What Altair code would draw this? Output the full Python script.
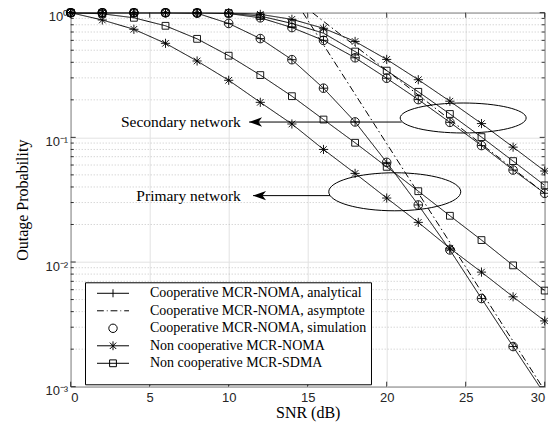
import altair as alt
import pandas as pd

# ---------------- data ----------------
snr = [0, 2, 4, 6, 8, 10, 12, 14, 16, 18, 20, 22, 24, 26, 28, 30]

coop_primary = [1.0, 1.0, 1.0, 1.0, 0.99, 0.82, 0.62, 0.42, 0.248, 0.133, 0.063,
                0.0287, 0.0125, 0.0051, 0.0021, 0.00087]
coop_secondary = [1.0, 1.0, 1.0, 1.0, 1.0, 0.985, 0.91, 0.76, 0.60, 0.435, 0.298,
                  0.201, 0.132, 0.086, 0.0547, 0.0356]
sim_primary = [1.0, 1.0, 1.0, 1.0, 0.99, 0.82, 0.62, 0.42, 0.248, 0.133, 0.063,
               0.0287, 0.0125, 0.0051, 0.0021, 0.00087]
sim_secondary = [1.0, 1.0, 1.0, 1.0, 1.0, 0.985, 0.91, 0.76, 0.60, 0.435, 0.298,
                 0.201, 0.132, 0.086, 0.0547, 0.0356]
noma_primary = [1.0, 0.874, 0.736, 0.568, 0.41, 0.287, 0.191, 0.128, 0.080, 0.0514,
                0.0326, 0.0208, 0.0129, 0.0083, 0.00526, 0.00337]
noma_secondary = [1.0, 1.0, 1.0, 1.0, 1.0, 1.0, 0.97, 0.885, 0.75, 0.588, 0.422,
                  0.29, 0.195, 0.129, 0.0835, 0.0537]
sdma_primary = [1.0, 0.98, 0.91, 0.785, 0.617, 0.452, 0.316, 0.214, 0.139, 0.0905,
                0.058, 0.037, 0.0235, 0.015, 0.0094, 0.0059]
sdma_secondary = [1.0, 1.0, 1.0, 1.0, 1.0, 0.99, 0.94, 0.82, 0.685, 0.488, 0.343,
                  0.232, 0.154, 0.1005, 0.0645, 0.0412]

asym_primary_snr = [14.7, 30.0]
asym_primary = [1.0, 0.00093]
asym_secondary_snr = [15.3, 30.0]
asym_secondary = [1.0, 0.0356]

legend_labels = [
    "Cooperative MCR-NOMA, analytical",
    "Cooperative MCR-NOMA, asymptote",
    "Cooperative MCR-NOMA, simulation",
    "Non cooperative MCR-NOMA",
    "Non cooperative MCR-SDMA",
]

ann_labels = ["Secondary network", "Primary network"]
ann_text_snr = [10.77, 10.77]
ann_p = [0.1327, 0.0341]
arrow_tip_snr = [11.29, 11.54]
arrow_end_snr = [20.95, 16.41]
ellipse_snr = [24.84, 20.51]
ellipse_p = [0.143, 0.0366]

x_ticks = [0, 5, 10, 15, 20, 25, 30]
y_major = [0.001, 0.01, 0.1, 1.0]
y_minor = [k * 10.0 ** e for e in (-3, -2, -1) for k in range(2, 10)]

# ---------------- tables ----------------
rows = []
def add(curve, style, marker, xs, ys):
    for a, b in zip(xs, ys):
        rows.append({"snr": a, "p": b, "curve": curve, "style": style, "marker": marker})

add("coop_primary", "solid", "plus", snr, coop_primary)
add("coop_secondary", "solid", "plus", snr, coop_secondary)
add("sim_primary", "none", "circle", snr, sim_primary)
add("sim_secondary", "none", "circle", snr, sim_secondary)
add("noma_primary", "solid", "star", snr, noma_primary)
add("noma_secondary", "solid", "star", snr, noma_secondary)
add("sdma_primary", "solid", "square", snr, sdma_primary)
add("sdma_secondary", "solid", "square", snr, sdma_secondary)
add("asym_primary", "dashdot", "none", asym_primary_snr, asym_primary)
add("asym_secondary", "dashdot", "none", asym_secondary_snr, asym_secondary)
df = pd.DataFrame(rows)

ann = pd.DataFrame({"label": ann_labels, "tsnr": ann_text_snr, "p": ann_p,
                    "tip": arrow_tip_snr, "end": arrow_end_snr})
ell = pd.DataFrame({"snr": ellipse_snr, "p": ellipse_p, "name": ["secondary", "primary"]})

W, H = 474, 374
SERIF = "Liberation Serif"
SANS = "Liberation Sans"

x_axis = alt.Axis(values=x_ticks, title="SNR (dB)", grid=True, labelPadding=5,
                  titleX=W / 2, titleY=26, titleBaseline="middle")
y_axis = alt.Axis(values=y_major, title="Outage Probability", grid=True, labelPadding=3,
                  labelOffset=4,
                  labelExpr="datum.value >= 0.5 ? '10⁰' : datum.value >= 0.05 ? '10⁻¹' : datum.value >= 0.005 ? '10⁻²' : '10⁻³'",
                  titleX=-48, titleY=H / 2, titleAngle=270, titleAlign="center",
                  titleBaseline="middle")
x_scale = alt.Scale(domain=[0, 30], nice=False, zero=False)
y_scale = alt.Scale(type="log", domain=[0.001, 1], nice=False)

def X(f):
    return alt.X(f"{f}:Q", scale=x_scale, axis=x_axis)

def Y(f):
    return alt.Y(f"{f}:Q", scale=y_scale, axis=y_axis)

# minor dotted grid
minor = alt.Chart(pd.DataFrame({"v": y_minor})).mark_rule(
    color="#b8b8b8", strokeWidth=0.8, strokeDash=[1, 2]).encode(y=Y("v"))

# inward ticks
xt = pd.DataFrame({"v": x_ticks})
ticks_xb = alt.Chart(xt).mark_rule(color="black", strokeWidth=0.8).encode(
    x=X("v"), y=alt.value(H), y2=alt.value(H - 5))
ticks_xt = alt.Chart(xt).mark_rule(color="black", strokeWidth=0.8).encode(
    x=X("v"), y=alt.value(0), y2=alt.value(5))
ym = pd.DataFrame({"v": y_major})
yn = pd.DataFrame({"v": y_minor})
ticks_yl = alt.Chart(ym).mark_rule(color="black", strokeWidth=0.8).encode(
    y=Y("v"), x=alt.value(0), x2=alt.value(5))
ticks_yr = alt.Chart(ym).mark_rule(color="black", strokeWidth=0.8).encode(
    y=Y("v"), x=alt.value(W), x2=alt.value(W - 5))
ticks_yl2 = alt.Chart(yn).mark_rule(color="black", strokeWidth=0.8).encode(
    y=Y("v"), x=alt.value(0), x2=alt.value(3))
ticks_yr2 = alt.Chart(yn).mark_rule(color="black", strokeWidth=0.8).encode(
    y=Y("v"), x=alt.value(W), x2=alt.value(W - 3))

base = alt.Chart(df)
lines = base.transform_filter("datum.style != 'none'").mark_line(
    color="black", strokeWidth=1, clip=True).encode(
    x=X("snr"), y=Y("p"), detail="curve:N",
    strokeDash=alt.StrokeDash("style:N", scale=alt.Scale(domain=["solid", "dashdot"],
                                                          range=[[1, 0], [7, 3, 1.5, 3]]),
                              legend=None))

PLUS = "M-1,0L1,0M0,-1L0,1"
STAR = "M-1,0L1,0M0,-1L0,1M-0.72,-0.72L0.72,0.72M-0.72,0.72L0.72,-0.72"

def markers(kind, shape, size):
    return base.transform_filter(
        f"datum.marker == '{kind}' && datum.p >= 0.001").mark_point(
        shape=shape, size=size, filled=False, color="black", strokeWidth=0.9,
        opacity=1).encode(x=X("snr"), y=Y("p"))

m_plus = markers("plus", PLUS, 64)
m_circle = markers("circle", "circle", 74)
m_star = markers("star", STAR, 84)
m_square = markers("square", "square", 46)

# annotations
ann_text = alt.Chart(ann).mark_text(align="right", baseline="middle", font=SERIF,
                                    fontSize=15.5, color="black").encode(
    x=X("tsnr"), y=Y("p"), text="label:N")
ann_rule = alt.Chart(ann).mark_rule(color="black", strokeWidth=1).encode(
    x=X("tip"), x2=alt.X2("end"), y=Y("p"))
ARROW = "M0,0L2,-0.72L1.45,0L2,0.72Z"
ann_head = alt.Chart(ann).mark_point(shape=ARROW, size=169, filled=True, color="black",
                                     opacity=1, strokeWidth=0.5).encode(
    x=X("tip"), y=Y("p"))
ell_sec = alt.Chart(ell).transform_filter("datum.name == 'secondary'").mark_point(
    shape="M-1,0A1,0.238,0,1,1,1,0A1,0.238,0,1,1,-1,0Z", size=15876, filled=False,
    color="black", strokeWidth=1, opacity=1).encode(x=X("snr"), y=Y("p"))
ell_pri = alt.Chart(ell).transform_filter("datum.name == 'primary'").mark_point(
    shape="M-1,0A1,0.288,0,1,1,1,0A1,0.288,0,1,1,-1,0Z", size=17424, filled=False,
    color="black", strokeWidth=1, opacity=1).encode(x=X("snr"), y=Y("p"))

# legend (built from the shape scale)
legend_paths = [
    "M-4,0L4,0M0,-1L0,1",
    "M-4,0L-2.3,0M-1.55,0L-1.35,0M-0.6,0L1.1,0M1.85,0L2.05,0M2.8,0L4,0",
    "M-1.05,0A1.05,1.05,0,1,1,1.05,0A1.05,1.05,0,1,1,-1.05,0Z",
    "M-4,0L4,0M0,-1.1L0,1.1M-0.8,-0.8L0.8,0.8M-0.8,0.8L0.8,-0.8",
    "M-4,0L4,0M-0.85,-0.85L0.85,-0.85L0.85,0.85L-0.85,0.85Z",
]
leg = alt.Chart(alt.Data(values=[{"series": s} for s in legend_labels])).transform_filter(
    "false").mark_point(filled=False, color="black", opacity=1, strokeWidth=1).encode(
    shape=alt.Shape("series:N", scale=alt.Scale(domain=legend_labels, range=legend_paths),
                    legend=alt.Legend(
                        title=" ", titleOrient="bottom", titleFontSize=8, titlePadding=2,
                        orient="none", legendX=14.3, legendY=269.6,
                        strokeColor="black", fillColor="white", padding=4,
                        symbolSize=64, symbolStrokeWidth=1, symbolStrokeColor="black",
                        symbolFillColor="transparent", symbolOffset=17, labelOffset=30,
                        labelFont=SERIF, labelFontSize=14, labelColor="black",
                        rowPadding=3.5, labelLimit=0, cornerRadius=0)))

chart = alt.layer(
    minor, ticks_xb, ticks_xt, ticks_yl, ticks_yr, ticks_yl2, ticks_yr2,
    lines, m_plus, m_circle, m_star, m_square,
    ell_sec, ell_pri, ann_rule, ann_head, ann_text, leg,
).properties(
    width=W, height=H,
    autosize=alt.AutoSizeParams(type="none"),
    padding={"left": 62.7, "top": 4.7, "right": 3.3, "bottom": 37},
).configure_view(
    stroke="black", strokeWidth=1
).configure_axis(
    labelFont=SANS, labelFontSize=13, labelColor="#262626",
    titleFont=SERIF, titleFontSize=16, titleFontWeight="normal", titleColor="black",
    ticks=False, domain=False, gridColor="#e2e2e2", gridWidth=1,
)

chart.save("out.html", embed_options={"renderer": "svg", "actions": False})
